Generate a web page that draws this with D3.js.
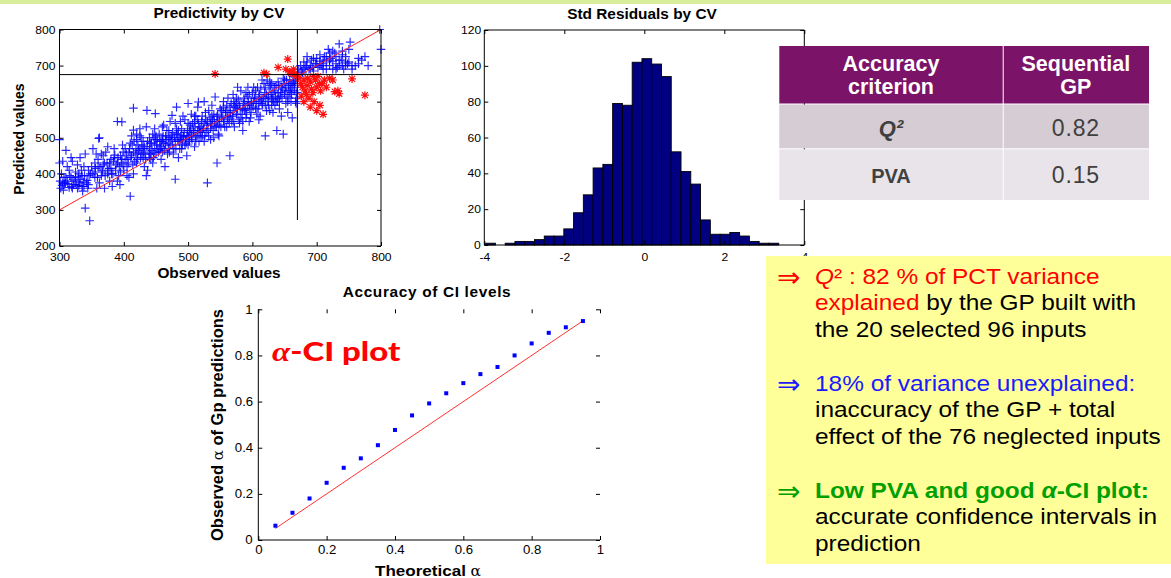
<!DOCTYPE html>
<html><head><meta charset="utf-8">
<script src="https://cdn.jsdelivr.net/npm/d3@7"></script>
<style>
body{margin:0;background:#fff;}
svg{display:block;font-family:"Liberation Sans",Arial,sans-serif;}
.sx{transform-box:fill-box;transform-origin:center;transform:scaleX(1.1);}
</style></head><body>
<svg id="c" width="1171" height="578"></svg>
<script>
// ---------------- DATA ----------------
const scatterXTicks = [300,400,500,600,700,800];
const scatterYTicks = [200,300,400,500,600,700,800];
const thresholdObserved = 670;
const thresholdPredicted = 675;
const bluePoints = [
[300,495],[302,360],[305,435],[308,372],[310,465],[312,380],[315,362],[318,390],[320,435],[322,370],[325,405],[328,360],[330,400],[332,445],[335,365],[338,420],[340,455],[342,375],[345,370],[340,305],[347,270],[303,400],[306,355],[312,420],[318,445],[324,380],[328,425],[333,385],[336,352],
[350,420],[352,470],[355,430],[358,360],[360,440],[362,500],[365,395],[368,425],[370,360],[372,460],[375,410],[378,380],[380,440],[382,365],[385,470],[388,425],[390,545],[392,395],[395,450],[398,480],[400,410],[355,390],[362,375],[368,450],[375,475],[383,400],[390,380],[396,430],[348,400],[357,455],[366,410],[378,430],[386,452],[394,370],[399,460],
[402,470],[405,440],[408,390],[410,338],[412,505],[415,460],[415,582],[420,430],[422,480],[425,505],[428,455],[430,490],[432,420],[435,530],[436,576],[440,470],[442,440],[445,510],[448,480],[450,455],[405,420],[410,485],[415,400],[420,510],[425,470],[430,445],[435,395],[440,500],[445,430],[448,525],[449,567],[425,525],[433,455],[443,485],[412,450],[419,470],[437,410],[447,460],[415,521],[397,544],[361,498],
[452,470],[455,510],[458,440],[460,495],[462,535],[465,480],[468,455],[470,520],[472,500],[475,562],[478,470],[480,540],[482,510],[485,445],[488,495],[490,525],[492,560],[495,480],[498,505],[500,540],[455,470],[460,530],[465,505],[470,470],[475,495],[480,385],[485,520],[490,470],[495,550],[498,450],[464,420],[472,545],[484,490],[493,505],[476,515],[488,545],[458,490],[482,585],[500,595],
[502,490],[505,565],[508,520],[510,545],[512,505],[515,585],[518,530],[520,500],[522,560],[525,540],[528,515],[530,375],[532,575],[535,525],[538,550],[540,500],[542,613],[545,560],[548,535],[550,580],[505,510],[510,475],[515,550],[520,525],[525,600],[530,545],[535,495],[540,565],[545,430],[548,505],[503,535],[517,490],[527,570],[537,590],[546,545],[512,560],[522,520],[516,599],
[552,555],[555,600],[558,570],[560,530],[562,610],[565,585],[568,545],[570,620],[572,590],[575,565],[578,605],[580,540],[582,630],[585,580],[588,600],[590,555],[592,615],[595,590],[598,570],[600,625],[555,545],[560,590],[565,450],[570,575],[575,610],[580,590],[585,520],[590,625],[595,545],[598,600],[562,570],[577,640],[588,575],[593,640],[571,600],
[602,600],[605,580],[608,640],[610,615],[612,560],[615,595],[618,650],[620,505],[622,620],[625,590],[628,645],[630,610],[632,570],[635,630],[638,520],[640,655],[642,600],[645,640],[648,510],[650,620],[605,630],[610,550],[615,660],[620,590],[625,615],[630,650],[635,590],[640,625],[645,560],[648,665],[603,610],[613,635],[623,660],[633,600],[643,615],[627,575],[637,645],
[652,640],[655,600],[658,660],[660,625],[662,555],[665,650],[668,610],[670,665],[655,570],[660,650],[665,630],[668,595],[653,660],[663,670],
[672,690],[675,700],[678,680],[680,710],[682,695],[685,725],[688,690],[690,700],[692,715],[695,685],[698,705],[700,720],[676,685],[684,700],[694,695],
[702,695],[705,730],[708,700],[710,690],[712,725],[715,710],[718,745],[720,700],[722,720],[725,690],[728,735],[730,705],[732,695],[735,760],[738,715],[740,700],[742,690],[745,725],[748,705],[750,745],[752,765],[755,690],[760,700],[765,720],[770,715],[775,725],[780,700],[798,800],[800,745],[705,712],[715,690],[725,712],[735,700],[745,700],[710,715],[720,735],[730,725],[740,740],[750,710],
[402,440],[404,455],[407,430],[409,470],[411,445],[414,425],[416,490],[419,455],[421,440],[423,465],[426,445],[428,480],[431,460],[434,440],[436,475],[439,455],[441,485],[444,465],[446,445],[449,495],
[451,480],[454,460],[456,490],[459,475],[461,505],[463,465],[466,495],[469,485],[471,460],[474,505],[476,480],[479,500],[481,470],[484,510],[486,490],[489,505],[491,480],[494,515],[496,495],[499,520],
[501,505],[504,525],[506,495],[509,515],[511,530],[514,505],[516,540],[519,515],[521,545],[524,525],[526,505],[529,535],[531,520],[534,555],[536,535],[539,520],[541,545],[544,530],[546,565],[549,545],
[551,530],[554,560],[556,545],[559,575],[561,555],[564,540],[566,570],[569,560],[571,545],[574,585],[576,565],[579,550],[581,580],[584,565],[586,595],[589,580],[591,565],[594,600],[596,580],[599,595],
[601,585],[604,610],[606,595],[609,580],[611,620],[614,605],[616,590],[619,625],[621,610],[624,600],[626,635],[629,620],[631,605],[634,640],[636,615],[639,600],[641,645],[644,625],[646,610],[649,650],
[651,630],[654,615],[656,645],[659,635],[661,620],[664,655],[666,640],[669,625],[667,660],[657,610],
[352,400],[356,415],[359,390],[363,420],[367,405],[371,395],[374,430],[377,415],[381,400],[384,435],[387,410],[391,445],[393,420],[397,440],[399,425],
[301,380],[304,368],[307,390],[309,375],[313,372],[316,395],[319,365],[321,385],[326,370],[329,392],[331,375],[334,410],[337,378],[339,395],[343,382],[346,395],
[405,395],[408,460],[413,480],[417,435],[422,455],[427,500],[432,475],[437,490],[442,455],[447,500],[452,495],[457,470],[462,485],[467,520],[472,480],[477,455],[482,525],[487,470],[492,500],[497,485],
[502,520],[507,540],[512,490],[517,520],[522,505],[527,550],[532,505],[537,560],[542,530],[547,510],[552,575],[557,530],[562,550],[567,595],[572,530],[577,580],[582,555],[587,610],[592,590],[597,555],
[602,640],[607,565],[612,600],[617,610],[622,575],[627,655],[632,625],[637,600],[642,580],[647,635],[652,595],[657,630],[662,645],[667,600],[610,595],[620,640],[630,590],[640,610],[650,660],[660,600],
[555,585],[565,560],[575,595],[585,545],[595,620],[545,550],[535,540],[525,490],[515,520],[505,500],
[360,420],[370,430],[380,415],[390,430],[395,405],[385,445],[375,400],[365,455],[355,405],[345,410],[335,395],[325,390],[315,410],[305,375],[310,390],[320,360],[330,368],[338,365],[344,360],[300,430],
[420,495],[430,470],[440,445],[450,505],[460,460],[470,500],[480,490],[490,495],[500,480],[510,560],
[685,710],[695,720],[705,700],[715,725],[725,740],[735,715],[745,710],[755,700],[765,705],[690,690],[700,705],[710,705],[720,715],[730,690],[740,730],[680,690]
];
const redPoints = [
[542,677],[618,680],[622,677],[640,695],[655,718],[652,690],[660,680],[665,675],[658,683],[664,690],[670,675],[672,665],[675,650],[678,640],[680,660],[682,630],[684,620],[685,645],[688,610],[690,655],[692,635],[694,625],[696,600],[698,660],[700,640],[702,670],[704,650],[706,630],[700,575],[705,590],[710,565],[708,650],[712,660],[715,640],[720,665],[725,660],[728,628],[735,622],[733,630],[755,663],[775,618],[676,615],[686,665],[695,670],[680,600],[690,585]
];

const histCounts = [1,0,1,2,2,3,5,5,9,18,28,43,45,79,78,102,104,101,94,52,41,34,14,6,6,7,5,2,1,1];
const histStart = -3.966;
const histBinWidth = 0.2442;
const histXTicks = [-4,-2,0,2,4];
const histYTicks = [0,20,40,60,80,100,120];

const alphaTheoretical = [0.05,0.10,0.15,0.20,0.25,0.30,0.35,0.40,0.45,0.50,0.55,0.60,0.65,0.70,0.75,0.80,0.85,0.90,0.95];
const alphaObserved    = [0.062,0.118,0.18,0.248,0.313,0.354,0.411,0.477,0.54,0.592,0.636,0.68,0.719,0.75,0.80,0.852,0.898,0.922,0.949];
const alphaXTicks = [0,0.2,0.4,0.6,0.8,1];
const alphaYTicks = [0,0.2,0.4,0.6,0.8,1];

const tableHeader = [["Accuracy","criterion"],["Sequential","GP"]];
const tableCriteria = ["Q²","PVA"];
const tableValues = ["0.82","0.15"];

// ---------------- DRAW ----------------
const svg = d3.select("#c");
svg.append("rect").attr("x",0).attr("y",0).attr("width",1171).attr("height",4).attr("fill","#d9ee9c");

function frameAxes(g, x, y, xt, yt, opt){
  const [x0,x1]=x.range(), [y0,y1]=y.range();
  const fmt = opt.fmt || (d=>d);
  const ax = g.append("g").attr("transform",`translate(0,${y0})`)
    .call(d3.axisBottom(x).tickValues(xt).tickSizeInner(-4).tickSizeOuter(0).tickPadding(opt.xpad).tickFormat(fmt));
  const ax2 = g.append("g").attr("transform",`translate(0,${y1})`)
    .call(d3.axisTop(x).tickValues(xt).tickSizeInner(-4).tickSizeOuter(0).tickFormat(""));
  const ay = g.append("g").attr("transform",`translate(${x0},0)`)
    .call(d3.axisLeft(y).tickValues(yt).tickSizeInner(-4).tickSizeOuter(0).tickPadding(opt.ypad).tickFormat(fmt));
  const ay2 = g.append("g").attr("transform",`translate(${x1},0)`)
    .call(d3.axisRight(y).tickValues(yt).tickSizeInner(-4).tickSizeOuter(0).tickFormat(""));
  [ax,ax2,ay,ay2].forEach(a=>{a.select(".domain").remove(); a.selectAll("line").attr("stroke","#000");
    a.selectAll("text").attr("font-size",opt.fs).attr("fill","#000").attr("font-family","Liberation Sans, Arial, sans-serif").attr("class","sx");});
  const lines = opt.box || [1,1,1,1]; // bottom, top, left, right
  if(lines[0]) g.append("line").attr("x1",x0).attr("x2",x1).attr("y1",y0).attr("y2",y0).attr("stroke","#000");
  if(lines[1]) g.append("line").attr("x1",x0).attr("x2",x1).attr("y1",y1).attr("y2",y1).attr("stroke","#000");
  if(lines[2]) g.append("line").attr("x1",x0).attr("x2",x0).attr("y1",y0).attr("y2",y1).attr("stroke","#000");
  if(lines[3]) g.append("line").attr("x1",x1).attr("x2",x1).attr("y1",y0).attr("y2",y1).attr("stroke","#000");
}
function label(g, txt, x, y, fs, rot, cls){
  const t = g.append("text").attr("x",x).attr("y",y).attr("text-anchor","middle")
    .attr("font-size",fs).attr("font-weight","bold").attr("fill","#000").text(txt);
  if(rot) t.attr("transform",`rotate(-90,${x},${y})`); else t.attr("class", cls||"sx");
  return t;
}

// ---- Scatter ----
const sX = d3.scaleLinear().domain([300,800]).range([59.5,381]);
const sY = d3.scaleLinear().domain([200,800]).range([246,29.5]);
const g1 = svg.append("g");
const pts = g1.append("g");
pts.selectAll("path.b").data(bluePoints).join("path").attr("class","b")
  .attr("d",d=>`M${sX(d[0])-4.3},${sY(d[1])}h8.6M${sX(d[0])},${sY(d[1])-4.3}v8.6`)
  .attr("stroke","#0000ff").attr("stroke-width",1.15).attr("fill","none").attr("stroke-opacity",0.85);
pts.selectAll("path.r").data(redPoints).join("path").attr("class","r")
  .attr("d",d=>{const x=sX(d[0]),y=sY(d[1]);return `M${x-4},${y}h8M${x},${y-4}v8M${x-3},${y-3}l6,6M${x-3},${y+3}l6,-6`;})
  .attr("stroke","#ff1010").attr("stroke-width",1.2).attr("fill","none");
g1.append("line").attr("x1",sX(300)).attr("y1",sY(300)).attr("x2",sX(800)).attr("y2",sY(800)).attr("stroke","#ff2020").attr("stroke-width",1);
g1.append("line").attr("x1",sX(300)).attr("x2",sX(800)).attr("y1",sY(thresholdPredicted)).attr("y2",sY(thresholdPredicted)).attr("stroke","#000");
g1.append("line").attr("x1",sX(thresholdObserved)).attr("x2",sX(thresholdObserved)).attr("y1",sY(800)).attr("y2",sY(272)).attr("stroke","#000");
frameAxes(g1,sX,sY,scatterXTicks,scatterYTicks,{xpad:7,ypad:5,fs:11});
label(g1,"Predictivity by CV",219,18,14);
label(g1,"Observed values",219,278,14);
label(g1,"Predicted values",23.5,139,14,true);

// ---- Histogram ----
const hX = d3.scaleLinear().domain([-4,4]).range([484.3,804.3]);
const hY = d3.scaleLinear().domain([0,120]).range([245,30]);
const g2 = svg.append("g");
g2.selectAll("rect.bar").data(histCounts).join("rect").attr("class","bar")
  .attr("x",(d,i)=>hX(histStart+i*histBinWidth))
  .attr("width",hX(histBinWidth)-hX(0))
  .attr("y",d=>hY(d)).attr("height",d=>hY(0)-hY(d))
  .attr("fill","#000080").attr("stroke","#000").attr("stroke-width",0.9)
  .attr("display",d=>d>0?null:"none");
frameAxes(g2,hX,hY,histXTicks,histYTicks,{xpad:8,ypad:4,fs:11});
label(g2,"Std Residuals by CV",642,19,14);

// ---- Alpha-CI plot ----
const aX = d3.scaleLinear().domain([0,1]).range([258.3,600]);
const aY = d3.scaleLinear().domain([0,1]).range([540,309.3]);
const g3 = svg.append("g");
g3.append("line").attr("x1",aX(0.05)).attr("y1",aY(0.05)).attr("x2",aX(0.95)).attr("y2",aY(0.95)).attr("stroke","#ff3030").attr("stroke-width",1);
g3.selectAll("rect.pt").data(alphaTheoretical).join("rect").attr("class","pt")
  .attr("x",(d)=>aX(d)-2).attr("y",(d,i)=>aY(alphaObserved[i])-2).attr("width",4).attr("height",4).attr("fill","#0000ff");
frameAxes(g3,aX,aY,alphaXTicks,alphaYTicks,{xpad:5,ypad:6,fs:12,box:[1,0,1,0],fmt:d3.format("")});
label(g3,"Accuracy of CI levels",427,297,14).attr("letter-spacing",0.6);
const xl = g3.append("text").attr("x",428).attr("y",576).attr("text-anchor","middle").attr("font-size",15.5).attr("font-weight","bold").attr("class","sx");
xl.append("tspan").text("Theoretical ");
xl.append("tspan").attr("font-family","DejaVu Serif, serif").attr("font-weight","normal").attr("font-size",14).text("α");
const yl = g3.append("text").attr("x",223).attr("y",425).attr("text-anchor","middle").attr("font-size",16.5).attr("font-weight","bold").attr("transform","rotate(-90,223,425)");
yl.append("tspan").text("Observed ");
yl.append("tspan").attr("font-family","DejaVu Serif, serif").attr("font-weight","normal").attr("font-size",15).text("α");
yl.append("tspan").text(" of Gp predictions");
const ann = g3.append("g").attr("transform","translate(272,361) scale(1.22,1)").append("text").attr("x",0).attr("y",0).attr("fill","#ff0000").attr("font-weight","bold").attr("font-size",27);
ann.append("tspan").attr("font-family","Liberation Serif, serif").attr("font-style","italic").text("α");
ann.append("tspan").attr("font-family","Lato, sans-serif").attr("font-weight",900).text("-CI plot");

// ---- Table ----
const gt = svg.append("g");
const colX = [779.3,1002.7,1149];
const rowY = [46,103.5,148.3,200];
const rowFill = ["#7b1468","#d5ccd4","#e9e4e9"];
for(let r=0;r<3;r++) for(let c=0;c<2;c++){
  gt.append("rect").attr("x",colX[c]+(c?1:0)).attr("y",rowY[r]+(r?1:0))
    .attr("width",colX[c+1]-colX[c]-(c?1:0)).attr("height",rowY[r+1]-rowY[r]-(r?1:0)).attr("fill",rowFill[r]);
}
const cc = [(colX[0]+colX[1])/2,(colX[1]+colX[2])/2];
tableHeader.forEach((lines,c)=>{
  lines.forEach((t,k)=>gt.append("text").attr("x",cc[c]).attr("y",70.7+k*23.5).attr("text-anchor","middle")
    .attr("fill","#fff").attr("font-weight","bold").attr("font-size",21.5).text(t));
});
const q = gt.append("text").attr("x",cc[0]).attr("y",136).attr("text-anchor","middle").attr("fill","#404040").attr("font-weight","bold").attr("font-style","italic").attr("font-size",22);
q.text(tableCriteria[0]);
gt.append("text").attr("x",cc[0]).attr("y",183.3).attr("text-anchor","middle").attr("fill","#404040").attr("font-weight","bold").attr("font-size",20).text(tableCriteria[1]);
tableValues.forEach((v,i)=>gt.append("text").attr("x",cc[1]).attr("y",[136,183.3][i]).attr("text-anchor","middle")
  .attr("fill","#404040").attr("font-size",23).attr("letter-spacing",0.8).text(v));

// ---- Yellow text box ----
const gy = svg.append("g");
gy.append("rect").attr("x",766).attr("y",256).attr("width",405).attr("height",308).attr("fill","#ffff99");
const RED="#ff0000", BLUE="#1a1aff", GREEN="#00a000", BLK="#000";
const lines = [
  {y:283.5, arrow:RED, parts:[["Q",RED,"italic"],["²",RED],[" : 82 % of PCT variance",RED]]},
  {y:310, parts:[["explained",RED],[" by the GP built with",BLK]]},
  {y:336.5, parts:[["the 20 selected 96 inputs",BLK]]},
  {y:390.5, arrow:BLUE, parts:[["18% of variance unexplained:",BLUE]]},
  {y:417, parts:[["inaccuracy of the GP + total",BLK]]},
  {y:443.5, parts:[["effect of the 76 neglected inputs",BLK]]},
  {y:497.5, arrow:GREEN, bold:true, parts:[["Low PVA and good ",GREEN],["α",GREEN,"italic"],["-CI plot:",GREEN]]},
  {y:524, parts:[["accurate confidence intervals in",BLK]]},
  {y:550.5, parts:[["prediction",BLK]]}
];
lines.forEach(L=>{
  if(L.arrow) gy.append("text").attr("x",777).attr("y",L.y+3).attr("fill",L.arrow).attr("font-size",28)
     .attr("font-family","DejaVu Sans, sans-serif").text("⇒");
  const t = gy.append("g").attr("transform",`translate(815,${L.y}) scale(1.11,1)`).append("text")
     .attr("x",0).attr("y",0).attr("font-size",22).attr("font-weight",L.bold?"bold":"normal");
  L.parts.forEach(p=>{const s=t.append("tspan").attr("fill",p[1]).text(p[0]); if(p[2]) s.attr("font-style",p[2]);});
});
</script>
</body></html>
